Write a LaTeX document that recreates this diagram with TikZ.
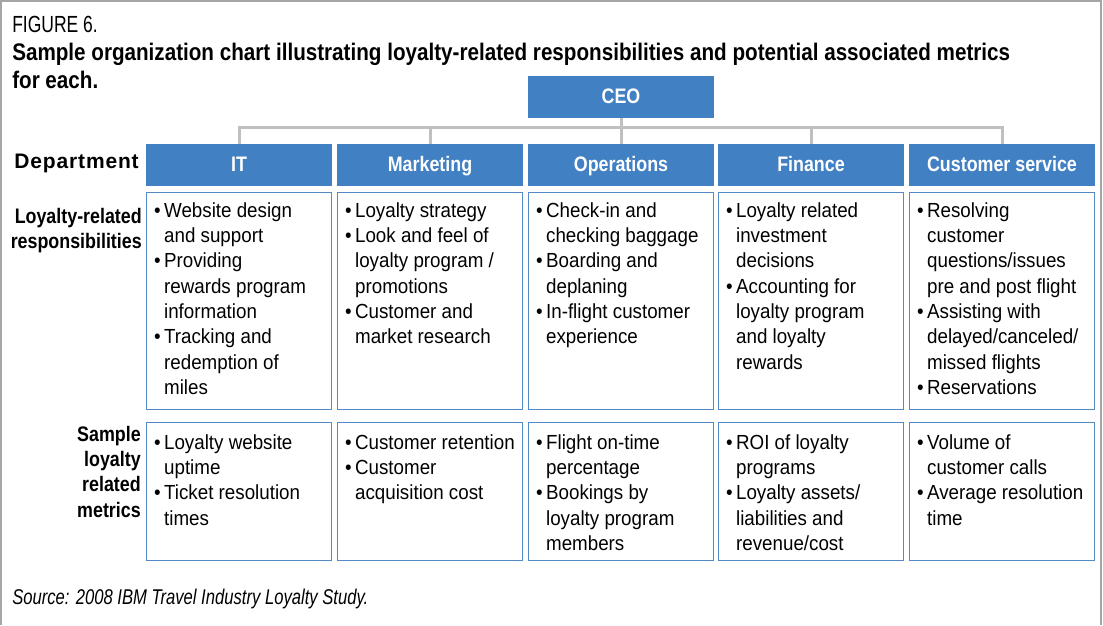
\documentclass[tikz,border=0pt]{standalone}
\usepackage{fontspec}
\setmainfont[FakeStretch=0.92]{Liberation Sans}
\newfontfamily\figfont[FakeStretch=0.75]{Liberation Sans}
\newfontfamily\srcfont[FakeStretch=0.78]{Liberation Sans}
\newfontfamily\titfont[FakeStretch=0.86]{Liberation Sans}
\newfontfamily\hdrfont[FakeStretch=0.85]{Liberation Sans}
\newfontfamily\labfont[FakeStretch=0.85]{Liberation Sans}
\newfontfamily\depfont[FakeStretch=1.0,LetterSpace=4]{Liberation Sans}
\usetikzlibrary{calc}
\definecolor{hdrblue}{RGB}{65,128,194}
\definecolor{bdrblue}{RGB}{84,138,200}
\definecolor{conngray}{RGB}{192,192,192}
\definecolor{framegray}{RGB}{165,165,165}
\newcommand{\bu}{\makebox[7.5pt][l]{\textbullet}}
\newcommand{\ci}{\hspace*{7.5pt}}
\newcommand{\fst}{\rule{0pt}{12pt}}
\newcommand{\tst}{\rule{0pt}{13.5pt}}
\tikzset{
  hdr/.style={fill=hdrblue, draw=none, minimum width=139.5pt, minimum height=31.5pt,
    inner sep=0pt, text=white, font=\hdrfont\bfseries\fontsize{15.75}{18}\selectfont,
    text height=12pt, text depth=3pt},
  cbox/.style={draw=bdrblue, line width=1.2pt, minimum width=138.5pt, inner sep=0pt},
  conn/.style={draw=conngray, line width=2.25pt},
  body/.style={anchor=north west, align=left, inner sep=0pt,
    font=\fontsize{15.3}{19}\selectfont},
  lab/.style={inner sep=0pt, font=\labfont\bfseries\fontsize{15.75}{19}\selectfont},
}
\begin{document}
\begin{tikzpicture}[x=0.75pt,y=-0.75pt]
\useasboundingbox (0,0) rectangle (1103,625);
\draw[framegray, line width=1.5pt] (1,625) -- (1,1) -- (1101,1) -- (1101,625);

% titles
\node[anchor=base west, inner sep=0pt, font=\figfont\fontsize{17.5}{21}\selectfont] (fig) at (12,32) {FIGURE 6.};
\node[anchor=north west, align=left, inner sep=0pt, font=\titfont\bfseries\fontsize{18}{21}\selectfont] (title) at (12,42)
  {\tst Sample organization chart illustrating loyalty-related responsibilities and potential associated metrics\\for each.};

% CEO and departments
\node[hdr] (ceo) at (621,97) {CEO};
\node[hdr] (d1) at (239,165) {IT};
\node[hdr] (d2) at (430,165) {Marketing};
\node[hdr] (d3) at (621,165) {Operations};
\node[hdr] (d4) at (811,165) {Finance};
\node[hdr] (d5) at (1002,165) {Customer service};

% connectors
\coordinate (bus) at (0,127);
\draw[conn] (ceo.south) -- (d3.north);
\draw[conn] (d1.north) -- (d1.north |- bus) -- (d5.north |- bus) -- (d5.north);
\draw[conn] (d2.north) -- (d2.north |- bus);
\draw[conn] (d4.north) -- (d4.north |- bus);

% boxes
\foreach \i/\x in {1/239,2/430,3/621,4/811,5/1002}{
  \node[cbox, minimum height=162.5pt] (r\i) at (\x,301) {};
  \node[cbox, minimum height=103.25pt] (m\i) at (\x,491.5) {};
}

% row labels
\node[lab, anchor=base east, font=\depfont\bfseries\fontsize{15.75}{19}\selectfont] (ldep) at (139,168) {Department};
\node[lab, anchor=north east, align=right] (lresp) at (142,207) {\fst Loyalty-related\\responsibilities};
\node[lab, anchor=north east, align=right] (lmet) at (141,425) {\fst Sample\\loyalty\\related\\metrics};

% responsibilities
\node[body] (tr1) at ($(r1.north west)+(8,9)$) {\fst\bu Website design\\\ci and support\\\bu Providing\\\ci rewards program\\\ci information\\\bu Tracking and\\\ci redemption of\\\ci miles};
\node[body] (tr2) at ($(r2.north west)+(8,9)$) {\fst\bu Loyalty strategy\\\bu Look and feel of\\\ci loyalty program /\\\ci promotions\\\bu Customer and\\\ci market research};
\node[body] (tr3) at ($(r3.north west)+(8,9)$) {\fst\bu Check-in and\\\ci checking baggage\\\bu Boarding and\\\ci deplaning\\\bu In-flight customer\\\ci experience};
\node[body] (tr4) at ($(r4.north west)+(8,9)$) {\fst\bu Loyalty related\\\ci investment\\\ci decisions\\\bu Accounting for\\\ci loyalty program\\\ci and loyalty\\\ci rewards};
\node[body] (tr5) at ($(r5.north west)+(8,9)$) {\fst\bu Resolving\\\ci customer\\\ci questions/issues\\\ci pre and post flight\\\bu Assisting with\\\ci delayed/canceled/\\\ci missed flights\\\bu Reservations};

% metrics
\node[body] (tm1) at ($(m1.north west)+(8,11)$) {\fst\bu Loyalty website\\\ci uptime\\\bu Ticket resolution\\\ci times};
\node[body] (tm2) at ($(m2.north west)+(8,11)$) {\fst\bu Customer retention\\\bu Customer\\\ci acquisition cost};
\node[body] (tm3) at ($(m3.north west)+(8,11)$) {\fst\bu Flight on-time\\\ci percentage\\\bu Bookings by\\\ci loyalty program\\\ci members};
\node[body] (tm4) at ($(m4.north west)+(8,11)$) {\fst\bu ROI of loyalty\\\ci programs\\\bu Loyalty assets/\\\ci liabilities and\\\ci revenue/cost};
\node[body] (tm5) at ($(m5.north west)+(8,11)$) {\fst\bu Volume of\\\ci customer calls\\\bu Average resolution\\\ci time};

% source
\node[anchor=base west, inner sep=0pt, font=\srcfont\itshape\fontsize{16}{19}\selectfont] (src) at (12,604) {Source: 2008 IBM Travel Industry Loyalty Study.};
\end{tikzpicture}
\end{document}
